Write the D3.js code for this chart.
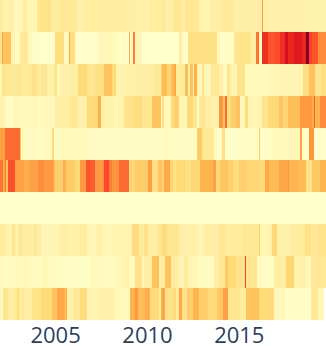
<!DOCTYPE html>
<html>
<head>
<meta charset="utf-8">
<script src="https://cdnjs.cloudflare.com/ajax/libs/d3/7.8.5/d3.min.js"></script>
<style>
  html, body { margin: 0; padding: 0; background: #fff; overflow: hidden; }
</style>
</head>
<body>
<div id="heatmap"></div>
<script>
// One value per month, Jan 2002 onwards (0-100 on the colour scale)
const row0 = [15,15,10,10,10,10,14,14,14,6,6,6,6,6,6,16,16,9,9,9,9,9,9,9,20,20,20,22,22,22,22,22,22,16,16,16,16,16,16,
  18,18,18,18,18,18,18,18,18,18,18,12,12,12,12,12,15,15,15,15,15,15,15,15,
  15,15,15,15,15,15,15,15,15,15,15,15,15,15,15,15,15,15,14,14,14,14,14,14,14,14,12,12,12,12,12,12,12,12,12,15,15,15,15,15,15,15,15,
  18,18,13,13,13,13,13,19,19,19,19,19,14,14,14,19,19,19,19,19,19,19,19,19,10,10,10,10,10,10,10,10,14,14,14,14,14,14,14,17,17,17,17,17,17,17,17,
  13,13,13,13,13,13,13,13,13,13,13,13,13,13,13,13,13,13,48,12,12,12,12,12,12,12,12,12,12,12,12,12,12,12,12,12,12,
  11,11,11,11,11,11,11,11,11,11,11,11,11,11,11,11,11,11,11,11,11,11,11];
const row1 = [22,45,36,36,36,36,36,10,10,10,4,4,4,18,18,18,18,18,6,6,6,2,2,2,2,2,0,0,0,0,0,0,0,0,0,0,26,26,26,26,26,26,3,3,3,45,25,25,25,
  1,1,1,1,1,1,1,1,1,1,1,1,1,1,1,7,7,7,7,7,7,7,7,7,7,4,4,4,2,2,3,3,3,1,1,42,5,5,55,8,8,8,8,0,0,0,0,0,0,0,0,0,0,0,0,0,0,
  0,0,0,0,0,0,0,0,0,0,0,14,14,2,2,2,2,24,24,24,24,24,24,24,24,24,24,24,24,24,24,24,24,24,24,24,5,5,1,1,3,3,3,3,3,3,3,20,20,20,20,
  22,22,22,22,22,22,22,14,14,14,57,57,4,4,70,70,70,70,62,62,62,62,62,64,64,64,70,70,70,80,80,72,72,72,72,76,76,76,76,76,72,72,72,100,100,66,66,62,62,62,62,52,52,52,52,52];
const row2 = [8,22,22,22,18,18,18,18,18,18,18,20,20,20,16,16,16,16,18,18,18,22,22,22,15,15,15,20,20,20,20,12,12,12,12,22,22,5,5,
  12,12,12,12,12,12,12,14,14,14,14,14,28,28,28,28,28,28,20,20,20,20,20,24,24,24,24,24,24,36,36,36,36,36,28,28,28,
  10,10,10,10,10,10,10,12,12,12,12,12,12,14,14,14,14,14,14,14,14,14,14,14,17,17,17,17,17,32,
  38,38,38,30,30,30,38,38,44,16,16,16,16,16,16,38,38,14,36,36,12,42,42,8,8,8,22,6,6,6,6,6,18,18,18,18,18,12,12,12,4,4,20,20,10,10,10,10,10,22,22,22,22,22,
  5,5,5,5,5,5,5,5,5,5,5,5,5,5,5,5,8,8,8,8,8,8,8,9,9,9,9,9,9,9,9,9,9,9,9,9,9,9,25,25,25,25,36,36,36,36,20,20,20,20,25,25,25];
const row3 = [10,10,10,3,3,3,3,3,3,3,8,8,8,5,5,5,5,5,5,5,5,8,8,8,4,4,4,4,6,6,6,6,6,6,6,6,13,13,13,13,13,13,14,14,14,14,18,18,18,18,18,
  12,12,12,12,12,12,28,28,28,28,28,28,28,42,42,11,11,11,11,11,11,11,11,11,5,10,10,10,10,10,22,22,22,22,22,22,22,26,26,26,26,26,20,20,20,20,20,20,36,36,36,36,36,36,8,
  25,6,6,6,6,6,28,28,32,32,32,8,8,8,8,8,28,28,28,28,20,20,20,2,18,18,18,18,14,14,14,14,12,12,12,12,12,50,50,50,35,58,25,25,25,32,32,32,36,36,36,6,6,6,26,26,
  8,8,8,8,8,8,8,8,8,22,22,22,22,28,28,28,28,28,28,28,35,35,35,30,30,30,37,37,37,37,37,37,37,37,48,48,48,48,48,48,48,48,42,60,40,40,40,52,52,52,52];
const row4 = [46,46,46,58,58,58,58,58,58,58,58,58,58,36,6,6,4,4,4,4,4,4,4,4,2,2,2,2,5,5,5,5,5,5,28,2,5,5,5,5,5,5,5,5,5,5,5,5,5,5,6,6,6,6,6,6,6,6,
  3,3,3,3,3,3,3,3,3,3,3,3,3,3,3,3,3,3,3,3,3,3,3,3,3,3,3,3,3,3,3,3,3,3,3,3,3,3,3,3,3,3,3,3,3,3,3,3,
  5,5,5,5,3,3,3,3,3,3,3,3,3,3,3,3,3,3,3,3,3,3,3,33,33,33,18,18,18,18,18,18,18,18,4,4,1,1,1,25,25,2,0,0,0,0,
  2,2,2,2,2,2,2,2,2,2,2,2,2,2,2,2,2,34,1,1,1,1,1,1,1,4,4,4,4,4,6,6,6,6,6,6,6,8,8,8,8,8,8,8,46,1,1,1,1,1,50,50,50,1,1,1,1,1,1,1,1];
const row5 = [56,56,44,56,36,63,63,63,63,63,46,46,46,46,46,46,42,42,42,46,46,46,46,46,46,52,52,52,52,48,48,48,48,48,48,34,32,32,32,32,32,42,42,33,33,33,33,33,33,28,28,28,48,48,48,48,
  62,62,62,60,60,60,48,48,48,48,48,52,64,64,64,55,55,50,50,50,50,50,58,58,58,58,58,58,28,30,30,30,33,33,33,33,33,33,33,33,33,46,46,25,25,25,25,36,36,36,
  30,44,44,44,44,30,30,24,24,28,28,28,28,28,28,24,24,24,24,30,30,30,30,30,30,40,40,40,40,40,40,40,40,46,46,28,28,28,35,35,35,35,35,32,32,32,26,26,26,26,32,32,32,32,32,
  30,30,30,30,30,30,30,30,30,28,28,28,44,44,44,38,38,38,38,38,38,44,44,44,44,44,44,50,40,40,40,40,40,40,38,38,38,38,38,22,22,22,22,34,34,34,34,34,40,40,40,40];
const row6 = [0,0,0,0,0,0,0,0,0,0,0,0,0,0,0,0,0,0,0,0,0,0,0,0,0,0,0,0,0,0,0,0,0,0,0,0,0,0,0,0,0,0,0,0,0,0,0,0,0,0,0,0,0,0,0,0,0,0,0,0,
  0,0,0,0,0,0,0,0,0,0,0,0,0,0,0,0,0,0,0,0,0,0,0,0,0,0,0,0,0,0,0,0,0,0,0,0,0,0,0,0,0,0,0,0,0,0,0,0,0,0,0,0,0,0,0,0,0,0,0,0,
  0,0,0,0,0,0,0,0,0,0,0,0,0,0,0,0,0,0,0,0,0,0,0,0,0,0,0,0,0,0,0,0,0,0,0,0,0,0,0,0,0,0,0,0,0,0,0,0,0,0,0,0,0,0,0,0,0,0,0,0,
  0,0,0,0,0,0,0,0,0,0,0,0,0,0,0,0,0,0,0,0,0,0,0,0,0,0,0,0,0,0,0,0,0,0,0,0,0,0,0,0,0,0,0,0,0,0,0,0,0];
const row7 = [16,16,16,12,12,12,8,8,20,20,10,10,18,18,18,14,14,14,14,14,14,14,18,18,14,14,14,8,8,8,8,8,9,9,9,9,9,9,9,14,14,14,14,14,14,12,12,12,12,12,12,12,16,16,16,16,16,
  8,8,8,8,8,8,12,12,12,8,8,8,8,8,8,8,10,10,10,10,10,10,10,10,10,10,10,10,10,26,26,26,26,26,16,16,16,24,24,24,14,14,14,14,14,14,20,20,20,
  26,26,26,20,20,20,20,20,20,20,20,12,12,12,12,12,12,12,12,12,12,12,9,9,9,9,9,14,14,14,14,14,14,14,14,14,14,20,20,20,20,16,16,16,16,16,16,16,16,16,16,16,
  18,18,18,18,18,18,18,18,18,18,18,32,8,8,8,8,8,12,12,12,30,30,30,12,12,12,12,12,12,12,12,12,16,16,16,16,16,16,16,16,16,24,24,24,24,18,18,18,18,18,22,22,22,22,22];
const row8 = [6,6,4,4,4,4,4,4,4,4,6,6,6,6,6,6,6,6,6,4,4,4,4,4,4,4,4,4,8,8,8,4,4,4,4,4,3,3,3,3,3,3,3,3,
  2,2,2,2,2,2,2,2,2,2,2,2,2,2,2,5,5,5,5,5,5,5,5,4,4,4,4,4,4,4,4,7,7,7,7,7,9,9,9,9,9,5,5,5,22,22,22,22,22,8,14,14,14,14,14,36,36,36,36,36,16,16,
  14,14,36,36,36,36,16,16,16,16,10,10,10,10,16,16,16,8,8,8,8,8,8,4,4,4,4,4,4,4,4,4,4,4,14,14,14,18,18,18,18,34,34,28,28,28,28,28,22,22,22,22,22,22,66,
  20,20,20,20,20,20,20,4,4,4,4,2,2,2,2,2,2,2,14,14,14,14,14,14,14,14,30,30,30,30,30,10,10,10,12,12,12,12,12,6,6,6,18,18,18,18,18,18,18,18,18,18];
const row9 = [6,6,20,20,20,14,14,14,14,18,18,24,24,6,18,18,14,14,14,14,14,22,22,22,22,22,22,28,28,28,28,28,28,28,36,36,36,44,44,44,44,44,40,40,12,12,12,12,18,18,18,18,26,26,26,26,26,
  10,10,10,10,10,10,10,12,12,12,12,12,12,12,12,12,12,12,6,6,6,6,6,6,6,6,6,6,40,40,40,48,48,38,38,38,38,38,42,42,42,28,28,28,28,28,28,14,42,
  44,44,22,22,22,22,22,26,26,16,16,44,44,22,22,22,32,32,32,32,40,40,40,40,32,32,32,32,32,32,28,28,28,28,28,28,34,34,34,34,46,46,46,20,20,20,20,20,20,20,20,16,16,16,16,
  36,36,36,36,36,36,36,36,28,28,28,28,28,28,28,28,28,28,6,6,6,6,6,6,6,2,2,2,2,2,2,2,2,2,2,2,2,2,2,2,2,2,18,18,18,18,18,8,8,8,8];

const rows = [row0, row1, row2, row3, row4, row5, row6, row7, row8, row9];
const tickYears = [2005, 2010, 2015];
// Plotly's YlOrRd stops, with the value at each stop
const colorStops = ["#ffffcc", "#ffeda0", "#fed976", "#feb24c", "#fd8d3c", "#fc4e2a", "#e31a1c", "#bd0026", "#800026"];
const colorValues = [0, 15, 29, 41, 52, 63, 75, 87.5, 100];

const width = 326,
    height = 346,
    plotHeight = 320;

const months = d3.utcMonth.range(new Date(Date.UTC(2002, 0, 1)), new Date(Date.UTC(2019, 9, 1)));

const svg = d3.select("#heatmap").append("svg")
    .attr("width", width)
    .attr("height", height)
    .style("display", "block");

const x = d3.scaleBand().domain(months).range([0, width]);
const y = d3.scaleBand().domain(d3.range(rows.length)).range([0, plotHeight]);
const color = d3.scaleLinear().domain(colorValues).range(colorStops);

const xTime = d3.scaleUtc()
    .domain([months[0], new Date(Date.UTC(2019, 9, 1))])
    .range([0, width]);

svg.append("g").selectAll("g")
    .data(rows)
    .enter().append("g")
    .attr("transform", function(d, i) { return "translate(0," + y(i) + ")"; })
    .selectAll("rect")
    .data(function(d) { return d; })
    .enter().append("rect")
    .attr("x", function(d, i) { return Math.round(x(months[i])); })
    .attr("width", function(d, i) {
        // snap both edges so neighbouring cells never show a seam
        return Math.round(x(months[i]) + x.bandwidth()) - Math.round(x(months[i]));
    })
    .attr("height", y.bandwidth())
    .attr("fill", function(d) { return color(d); })
    .attr("shape-rendering", "crispEdges");

const axis = d3.axisBottom(xTime)
    .tickValues(tickYears.map(function(d) { return new Date(Date.UTC(d, 0, 1)); }))
    .tickFormat(d3.utcFormat("%Y"))
    .tickSize(0)
    .tickPadding(7);

const axisG = svg.append("g")
    .attr("transform", "translate(0," + plotHeight + ")")
    .call(axis);
axisG.select(".domain").remove();
axisG.selectAll("text")
    .attr("fill", "#2a3f5f")
    .style("font-family", "'Open Sans', sans-serif")
    .style("font-size", "22px");
</script>
</body>
</html>
